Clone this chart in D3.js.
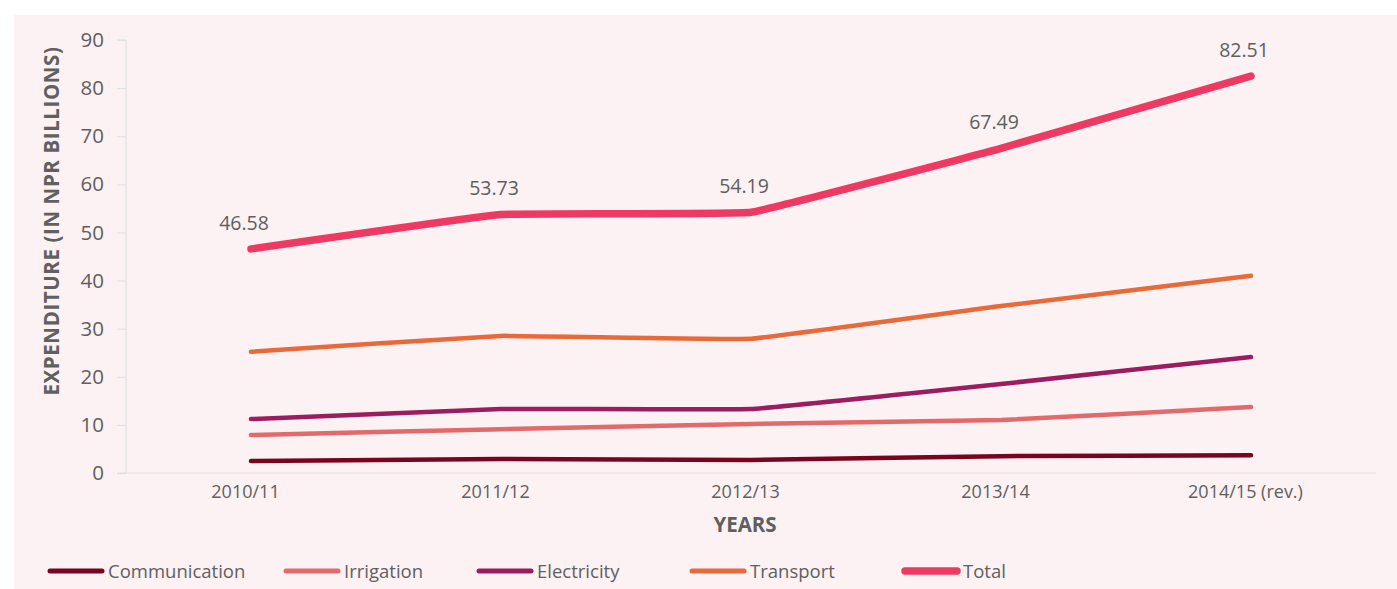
<!DOCTYPE html>
<html>
<head>
<meta charset="utf-8">
<script src="https://cdn.jsdelivr.net/npm/d3@7"></script>
<style>
  html, body { margin: 0; padding: 0; background: #ffffff; }
  svg { display: block; }
  text { font-family: "Open Sans", Lato, sans-serif; fill: #606060; }
</style>
</head>
<body>
<svg id="chart" width="1397" height="589"></svg>
<script>
// Infrastructure expenditure by sector (NPR billions)
const years = ["2010/11", "2011/12", "2012/13", "2013/14", "2014/15 (rev.)"];
const communication = [2.5, 2.9, 2.7, 3.5, 3.7];
const irrigation    = [7.9, 9.1, 10.2, 11.0, 13.7];
const electricity   = [11.2, 13.3, 13.3, 18.5, 24.1];
const transport     = [25.2, 28.5, 27.9, 34.7, 41.0];
const total         = [46.58, 53.73, 54.19, 67.49, 82.51];
const yTicks = [0, 10, 20, 30, 40, 50, 60, 70, 80, 90];

const series = [
  { name: "Communication", values: communication, color: "#7a0420", width: 4.5 },
  { name: "Irrigation",    values: irrigation,    color: "#e26a6b", width: 4.5 },
  { name: "Electricity",   values: electricity,   color: "#9c1d5f", width: 4.5 },
  { name: "Transport",     values: transport,     color: "#e8693a", width: 4.5 },
  { name: "Total",         values: total,         color: "#ee3a63", width: 7.5, labels: true }
];

const svg = d3.select("#chart");
const W = 1397, H = 589;

// panel background
svg.append("rect").attr("x", 14).attr("y", 15).attr("width", W - 14).attr("height", H - 15)
  .attr("fill", "#fcf1f3");

const plotLeft = 126, plotRight = 1376, plotTop = 40, plotBottom = 473;

const x = d3.scalePoint().domain(years).range([plotLeft, plotRight]).padding(0.5);
const y = d3.scaleLinear().domain([0, 90]).range([plotBottom, plotTop]);

// y axis
const yAxis = svg.append("g").attr("transform", `translate(${plotLeft},0)`)
  .call(d3.axisLeft(y).tickValues(yTicks).tickSize(9).tickPadding(13));
yAxis.select(".domain").attr("stroke", "#dfe2e6").attr("stroke-width", 1.2)
  .attr("d", `M-9,${plotTop}H0V${plotBottom}`);
yAxis.selectAll(".tick line").attr("stroke", "#dfe2e6").attr("stroke-width", 1.2);
yAxis.selectAll(".tick text").style("font-size", "20.5px").style("font-family", "'Open Sans'")
  .attr("fill", "#606060");

// x axis
const xAxis = svg.append("g").attr("transform", `translate(0,${plotBottom})`)
  .call(d3.axisBottom(x).tickSize(0).tickPadding(12));
xAxis.select(".domain").attr("stroke", "#dfe2e6").attr("stroke-width", 1.2)
  .attr("d", `M${plotLeft - 9},0H${plotRight}`);
xAxis.selectAll(".tick text").style("font-size", "18px").style("font-family", "'Open Sans'")
  .attr("fill", "#606060").attr("dx", -6);

// axis titles
svg.append("text")
  .attr("transform", "translate(59,221) rotate(-90)")
  .attr("text-anchor", "middle")
  .style("font-size", "20.5px").style("font-weight", "700").style("letter-spacing", "0.6px")
  .attr("fill", "#555")
  .text("EXPENDITURE (IN NPR BILLIONS)");
svg.append("text")
  .attr("x", 745).attr("y", 532)
  .attr("text-anchor", "middle")
  .style("font-size", "20.5px").style("font-weight", "700")
  .attr("fill", "#555")
  .text("YEARS");

// lines
const line = d3.line()
  .x((d, i) => x(years[i]))
  .y(d => y(d))
  .curve(d3.curveCardinal.tension(0.8));

series.forEach(s => {
  svg.append("path")
    .datum(s.values)
    .attr("fill", "none")
    .attr("stroke", s.color)
    .attr("stroke-width", s.width)
    .attr("stroke-linecap", "round")
    .attr("stroke-linejoin", "round")
    .attr("d", line);
});

// value labels on the total line
svg.append("g").selectAll("text")
  .data(total)
  .join("text")
  .attr("x", (d, i) => x(years[i]) - 7)
  .attr("y", d => y(d) - 19)
  .attr("text-anchor", "middle")
  .style("font-size", "19.5px")
  .attr("fill", "#606060")
  .text(d => d.toFixed(2));

// legend
const legendX = [48, 284, 477, 690, 903];
const legend = svg.append("g").attr("transform", "translate(0,571)");
series.forEach((s, i) => {
  const g = legend.append("g").attr("transform", `translate(${legendX[i]},0)`);
  g.append("line").attr("x1", 2).attr("x2", 54).attr("y1", 0).attr("y2", 0)
    .attr("stroke", s.color).attr("stroke-width", s.labels ? 7.5 : 5)
    .attr("stroke-linecap", "round");
  g.append("text").attr("x", 60).attr("y", 7)
    .style("font-size", "18.5px").attr("fill", "#606060")
    .text(s.name);
});
</script>
</body>
</html>
